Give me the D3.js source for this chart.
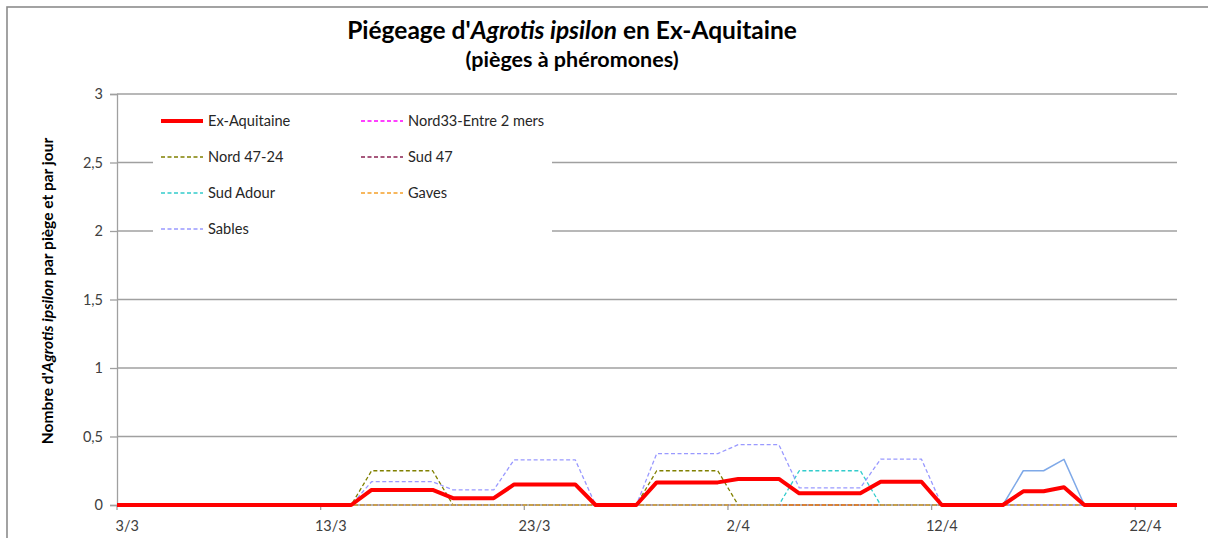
<!DOCTYPE html>
<html><head><meta charset="utf-8">
<script src="https://cdn.jsdelivr.net/npm/d3@7"></script>
<style>body{margin:0;background:#fff}svg{display:block}text{font-family:Lato,"Noto Sans",sans-serif}</style>
</head><body>
<svg id="c" width="1208" height="538"></svg>
<script>
// 2/3 and 24/4 lie just outside the visible axis range (clipped, as in the original)
const days = ["2/3","3/3","4/3","5/3","6/3","7/3","8/3","9/3","10/3","11/3","12/3","13/3","14/3","15/3","16/3","17/3","18/3","19/3","20/3","21/3","22/3","23/3","24/3","25/3","26/3","27/3","28/3","29/3","30/3","31/3","1/4","2/4","3/4","4/4","5/4","6/4","7/4","8/4","9/4","10/4","11/4","12/4","13/4","14/4","15/4","16/4","17/4","18/4","19/4","20/4","21/4","22/4","23/4","24/4"];
const xTickLabels = ["3/3","13/3","23/3","2/4","12/4","22/4"];
const yTicks = [0,0.5,1,1.5,2,2.5,3];

const exAquitaine = [0,0,0,0,0,0,0,0,0,0,0,0,0,0.11,0.11,0.11,0.11,0.05,0.05,0.05,0.15,0.15,0.15,0.15,0,0,0,0.165,0.165,0.165,0.165,0.19,0.19,0.19,0.085,0.085,0.085,0.085,0.17,0.17,0.17,0,0,0,0,0.1,0.1,0.13,0,0,0,0,0,0];
const nord33 = [0,0,0,0,0,0,0,0,0,0,0,0,0,0,0,0,0,0,0,0,0,0,0,0,0,0,0,0,0,0,0,0,0,0,0,0,0,0,0,0,0,0,0,0,0,0,0,0,0,0,0,0,0,0];
const nord4724 = [0,0,0,0,0,0,0,0,0,0,0,0,0,0.25,0.25,0.25,0.25,0,0,0,0,0,0,0,0,0,0,0.25,0.25,0.25,0.25,0,0,0,0,0,0,0,0,0,0,0,0,0,0,0,0,0,0,0,0,0,0,0];
const sud47 = [0,0,0,0,0,0,0,0,0,0,0,0,0,0,0,0,0,0,0,0,0,0,0,0,0,0,0,0,0,0,0,0,0,0,0,0,0,0,0,0,0,0,0,0,0,0,0,0,0,0,0,0,0,0];
const sudAdour = [0,0,0,0,0,0,0,0,0,0,0,0,0,0,0,0,0,0,0,0,0,0,0,0,0,0,0,0,0,0,0,0,0,0,0.25,0.25,0.25,0.25,0,0,0,0,0,0,0,0,0,0,0,0,0,0,0,0];
const gaves = [0,0,0,0,0,0,0,0,0,0,0,0,0,0,0,0,0,0,0,0,0,0,0,0,0,0,0,0,0,0,0,0,0,0,0,0,0,0,0,0,0,0,0,0,0,0,0,0,0,0,0,0,0,0];
const sables = [0,0,0,0,0,0,0,0,0,0,0,0,0,0.17,0.17,0.17,0.17,0.11,0.11,0.11,0.33,0.33,0.33,0.33,0,0,0,0.375,0.375,0.375,0.375,0.44,0.44,0.44,0.125,0.125,0.125,0.125,0.335,0.335,0.335,0,0,0,0,0,0,0,0,0,0,0,0,0];
const sablesSolid = [null,null,null,null,null,null,null,null,null,null,null,null,null,null,null,null,null,null,null,null,null,null,null,null,null,null,null,null,null,null,null,null,null,null,null,null,null,null,null,null,null,null,null,null,0,0.25,0.25,0.333,0,null,null,null,null,null];

const series = [
  {name:"Nord33-Entre 2 mers", values:nord33, color:"#ff00ff", w:1.3, dash:"4,2.5", legend:[1,0]},
  {name:"Nord 47-24", values:nord4724, color:"#808000", w:1.3, dash:"4,2.5", legend:[0,1]},
  {name:"Sud 47", values:sud47, color:"#8b2252", w:1.3, dash:"4,2.5", legend:[1,1]},
  {name:"Sud Adour", values:sudAdour, color:"#33cccc", w:1.3, dash:"4,2.5", legend:[0,2]},
  {name:"Sables", values:sables, color:"#9999ff", w:1.3, dash:"4,2.5", legend:[0,3]},
  {name:"", values:sablesSolid, color:"#7fa9e8", w:1.5, dash:null, legend:null},
  {name:"Gaves", values:gaves, color:"#f5a028", w:1.3, dash:"4,2.5", legend:[1,2]},
  {name:"Ex-Aquitaine", values:exAquitaine, color:"#ff0000", w:4, dash:null, legend:[0,0]}
];

const svg = d3.select("#c");
const L = 117, R = 1176, T = 94, B = 505;
const bw = (R - L) / (days.length - 2);
const x = d3.scaleBand().domain(days).range([L - bw, R + bw]).padding(0);
const cx = d => x(d) + x.bandwidth()/2;
const y = d3.scaleLinear().domain([0,3]).range([B, T]);
const grid = "#a0a0a0";

svg.append("defs").append("clipPath").attr("id","plot")
  .append("rect").attr("x",L).attr("y",T-10).attr("width",R-L+1).attr("height",B-T+20);

// outer border
svg.append("rect").attr("x",7).attr("y",7).attr("width",1260).attr("height",600)
  .attr("fill","#fff").attr("stroke","#8c8c8c").attr("stroke-width",1.6);

// gridlines
svg.append("g").selectAll("line").data(yTicks.filter(v=>v>0)).join("line")
  .attr("x1",L).attr("x2",R+1).attr("y1",d=>y(d)).attr("y2",d=>y(d))
  .attr("stroke",grid).attr("stroke-width",1.3);

// y axis
const yAxis = svg.append("g").attr("transform",`translate(${L},0)`)
  .call(d3.axisLeft(y).tickValues(yTicks).tickSize(7).tickPadding(7)
    .tickFormat(d => String(d).replace(".",",")));
yAxis.select(".domain").attr("stroke",grid).attr("stroke-width",1.3);
yAxis.selectAll(".tick line").attr("stroke",grid).attr("stroke-width",1.3);
yAxis.selectAll(".tick text").attr("font-size",14.5).attr("fill","#404040")
  .style("font-family","Lato,sans-serif");

// x axis line + ticks
svg.append("line").attr("x1",L).attr("x2",R+1).attr("y1",B).attr("y2",B)
  .attr("stroke",grid).attr("stroke-width",1.3);
svg.append("g").selectAll("line").data(xTickLabels).join("line")
  .attr("x1",d=>x(d)).attr("x2",d=>x(d)).attr("y1",B).attr("y2",B+5)
  .attr("stroke",grid).attr("stroke-width",1.3);
svg.append("g").selectAll("text").data(xTickLabels).join("text")
  .attr("x",d=>cx(d)).attr("y",B+26).attr("text-anchor","middle")
  .attr("font-size",14.5).attr("fill","#404040").text(d=>d);

// legend background
svg.append("rect").attr("x",153).attr("y",100).attr("width",399).attr("height",145).attr("fill","#fff");

// lines
const line = d3.line().defined(v => v !== null).x((v,i)=>cx(days[i])).y(v=>y(v));
svg.append("g").attr("clip-path","url(#plot)").selectAll("path").data(series).join("path")
  .attr("d", s => line(s.values))
  .attr("fill","none").attr("stroke",s=>s.color).attr("stroke-width",s=>s.w)
  .attr("stroke-dasharray",s=>s.dash).attr("stroke-linejoin","round");

// legend
const lg = svg.append("g");
series.filter(s=>s.legend).forEach(s => {
  const lx = 161 + s.legend[0]*200, ly = 121 + s.legend[1]*36;
  lg.append("line").attr("x1",lx).attr("x2",lx+42).attr("y1",ly).attr("y2",ly)
    .attr("stroke",s.color).attr("stroke-width",s.w).attr("stroke-dasharray",s.dash);
  lg.append("text").attr("x",lx+47).attr("y",ly+5).attr("font-size",14.6)
    .attr("fill","#262626").text(s.name);
});

// title
const t = svg.append("text").attr("x",572).attr("y",39).attr("text-anchor","middle")
  .attr("font-size",24.5).attr("font-weight","bold").attr("fill","#000");
t.append("tspan").text("Piégeage d'");
t.append("tspan").attr("font-style","italic").text("Agrotis ipsilon");
t.append("tspan").text(" en Ex-Aquitaine");
svg.append("text").attr("x",572).attr("y",67).attr("text-anchor","middle")
  .attr("font-size",21.5).attr("font-weight","bold").attr("fill","#000").text("(pièges à phéromones)");

// y label
const yl = svg.append("text").attr("transform","translate(53,291) rotate(-90)")
  .attr("text-anchor","middle").attr("font-size",15.5).attr("font-weight","bold").attr("fill","#000");
yl.append("tspan").text("Nombre d'");
yl.append("tspan").attr("font-style","italic").text("Agrotis ipsilon");
yl.append("tspan").text(" par piège et par jour");
</script>
</body></html>
